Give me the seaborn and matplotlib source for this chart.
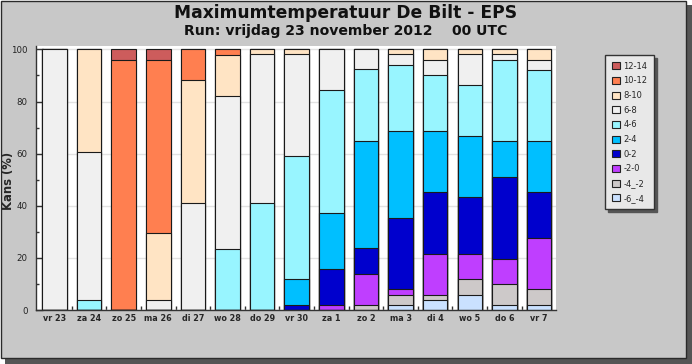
import matplotlib
matplotlib.use("Agg")
import matplotlib.pyplot as plt
from matplotlib.patches import Rectangle, Patch
from matplotlib.ticker import FixedLocator
import seaborn as sns
import numpy as np

# ---- data (percent of ensemble members) ----
days = ["vr 23", "za 24", "zo 25", "ma 26", "di 27", "wo 28", "do 29", "vr 30",
        "za 1", "zo 2", "ma 3", "di 4", "wo 5", "do 6", "vr 7"]
classes = ["-6_-4", "-4_-2", "-2-0", "0-2", "2-4", "4-6", "6-8", "8-10", "10-12", "12-14"]
class_colors = ["#CAE1FF", "#CDC9C9", "#BF3EFF", "#0000CD", "#00BFFF",
                "#98F5FF", "#F0F0F0", "#FFE4C4", "#FF7F50", "#CD5C5C"]

p_m6_m4 = [0, 0, 0, 0, 0, 0, 0, 0, 0, 0, 2.0, 3.9, 5.9, 2.0, 2.0]
p_m4_m2 = [0, 0, 0, 0, 0, 0, 0, 0, 0, 2.0, 3.9, 2.0, 5.9, 7.8, 5.9]
p_m2_0 = [0, 0, 0, 0, 0, 0, 0, 0, 2.0, 11.8, 2.0, 15.7, 9.8, 9.8, 19.6]
p_0_2 = [0, 0, 0, 0, 0, 0, 0, 2.0, 13.7, 9.8, 27.5, 23.5, 21.6, 31.4, 17.6]
p_2_4 = [0, 0, 0, 0, 0, 0, 0, 9.8, 21.6, 41.2, 33.3, 23.5, 23.5, 13.7, 19.6]
p_4_6 = [0, 3.9, 0, 0, 0, 23.5, 41.2, 47.1, 47.1, 27.5, 25.5, 21.6, 19.6, 31.4, 27.5]
p_6_8 = [100, 56.9, 0, 3.9, 41.2, 58.8, 56.9, 39.2, 15.7, 7.8, 3.9, 5.9, 11.8, 2.0, 3.9]
p_8_10 = [0, 39.2, 0, 25.5, 47.1, 15.7, 2.0, 2.0, 0, 0, 2.0, 3.9, 2.0, 2.0, 3.9]
p_10_12 = [0, 0, 96.1, 66.7, 11.8, 2.0, 0, 0, 0, 0, 0, 0, 0, 0, 0]
p_12_14 = [0, 0, 3.9, 3.9, 0, 0, 0, 0, 0, 0, 0, 0, 0, 0, 0]

series = [p_m6_m4, p_m4_m2, p_m2_0, p_0_2, p_2_4, p_4_6, p_6_8, p_8_10, p_10_12, p_12_14]

sns.set_style("white")
plt.rcParams["font.family"] = ["DejaVu Sans"]

W, H = 692, 364
fig = plt.figure(figsize=(W / 100, H / 100), dpi=100, facecolor="white")

# shadow + gray panel
fig.add_artist(Rectangle((5 / W, 0), 687 / W, 359 / H, transform=fig.transFigure,
                         facecolor="#555555", edgecolor="none", zorder=-10))
fig.add_artist(Rectangle((0.5 / W, 6 / H), 685.5 / W, 357.5 / H, transform=fig.transFigure,
                         facecolor="#C8C8C8", edgecolor="#2a2a2a", linewidth=1, zorder=-9))

ax = fig.add_axes([36 / W, 1 - 310 / H, 520 / W, 264 / H])
ax.set_facecolor("white")
ax.set_axisbelow(True)

cum = np.cumsum(np.array(series, dtype=float), axis=0)
for k in reversed(range(len(classes))):
    sns.barplot(x=days, y=cum[k], color=class_colors[k], saturation=1, width=0.71,
                edgecolor="#1a1a1a", linewidth=0.8, errorbar=None, ax=ax)

ax.set_xlim(-0.53, 14.49)
ax.set_ylim(0, 101.3)
ax.yaxis.grid(True, color="#E2E2E2", linewidth=1)
ax.xaxis.grid(False)

ax.set_yticks([0, 20, 40, 60, 80, 100])
ax.yaxis.set_minor_locator(FixedLocator([10, 30, 50, 70, 90]))
ax.tick_params(axis="y", which="major", direction="in", length=5, width=1, color="#333333",
               labelsize=6.2, pad=6, labelcolor="#222222", left=True)
ax.tick_params(axis="y", which="minor", direction="in", length=2.5, width=1, color="#333333", left=True)

ax.set_xticks(range(len(days)))
ax.set_xticklabels(days, fontsize=5.8, fontweight="bold")
ax.xaxis.set_minor_locator(FixedLocator([i + 0.5 for i in range(len(days) - 1)]))
ax.tick_params(axis="x", which="major", length=0, pad=3)
ax.tick_params(axis="x", which="minor", direction="in", length=3, width=1, color="#333333", bottom=True)

ax.set_xlabel("")
ax.set_ylabel("Kans (%)", fontsize=8.4, fontweight="bold")
ax.yaxis.label.set_va("center")
ax.yaxis.set_label_coords(-0.053, 0.49)

for s in ["top", "right"]:
    ax.spines[s].set_visible(False)
for s in ["left", "bottom"]:
    ax.spines[s].set_color("#333333")
    ax.spines[s].set_linewidth(1)

fig.text(0.5, 1 - 13 / H, "Maximumtemperatuur De Bilt - EPS", ha="center", va="center",
         fontsize=12.3, fontweight="bold", color="#111111")
fig.text(0.5, 1 - 31.5 / H, "Run: vrijdag 23 november 2012    00 UTC", ha="center", va="center",
         fontsize=10.1, fontweight="bold", color="#111111")

handles = [Patch(facecolor=class_colors[k], edgecolor="#222222", linewidth=0.8)
           for k in reversed(range(len(classes)))]
labels = [classes[k] for k in reversed(range(len(classes)))]
leg = fig.legend(handles, labels, loc="upper left", bbox_to_anchor=(605 / W, 1 - 55 / H),
                 bbox_transform=fig.transFigure, frameon=True, fancybox=False,
                 shadow={"color": "#555555", "alpha": 1}, facecolor="#E8E8E8", edgecolor="#333333",
                 framealpha=1, fontsize=6.0, handlelength=0.95, handleheight=0.95,
                 handletextpad=0.45, labelspacing=0.68, borderpad=0.8, borderaxespad=0)
leg.get_frame().set_linewidth(1)

fig.savefig("out.png", dpi=100, facecolor="white")
